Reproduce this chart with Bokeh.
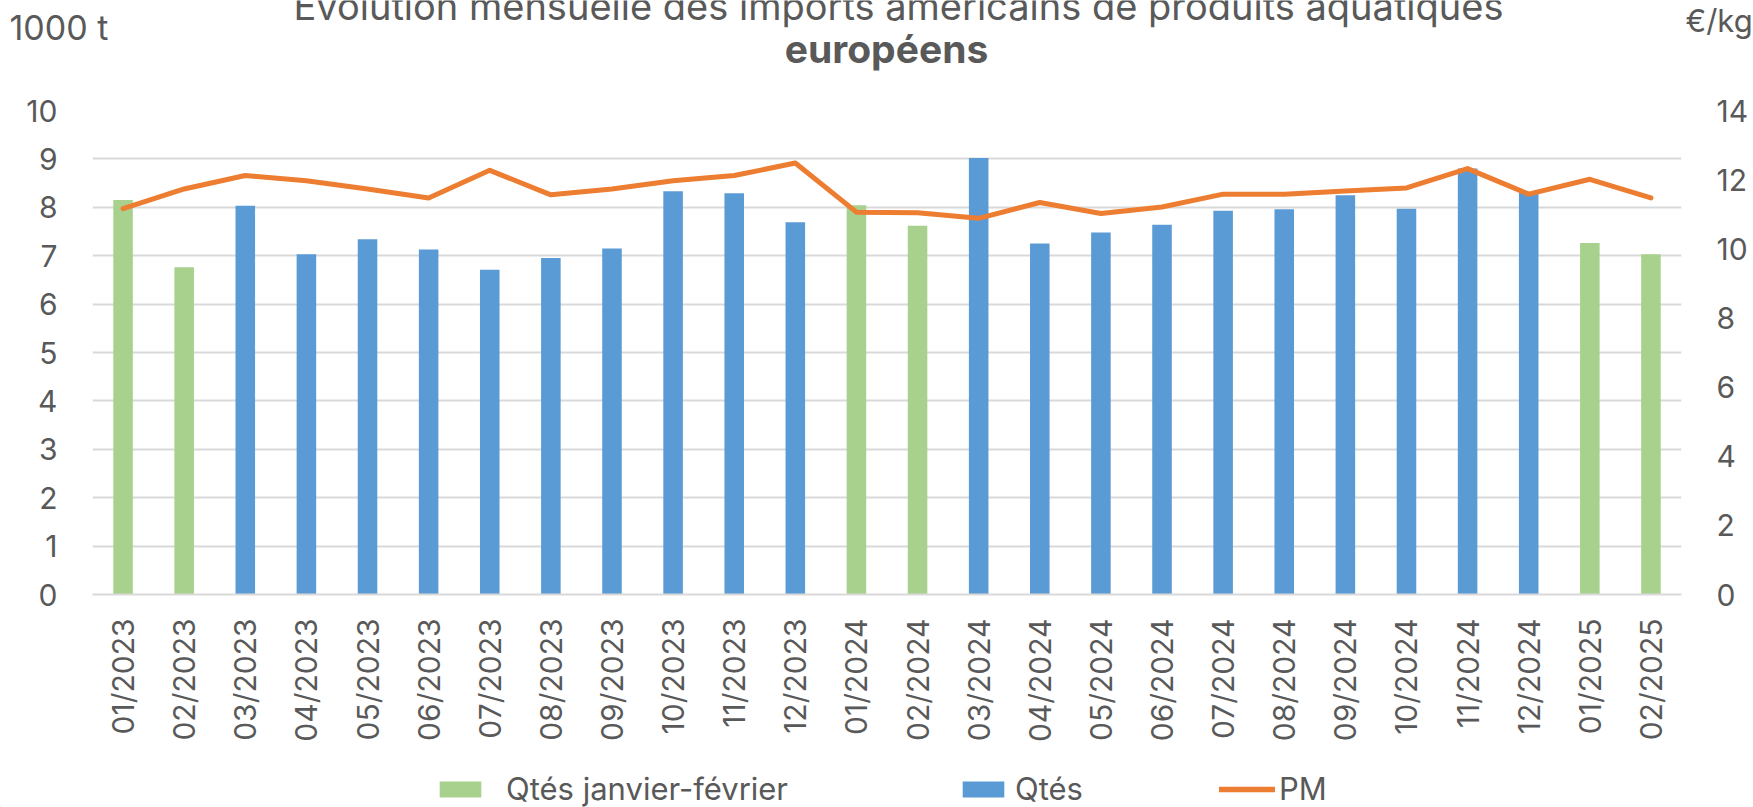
import math
from bokeh.plotting import figure
from bokeh.layouts import column
from bokeh.models import (FactorRange, Range1d, LinearAxis, FixedTicker,
                          Legend, LegendItem)
from bokeh.core.properties import value
from bokeh.embed import file_html
from bokeh.resources import INLINE

# ---------------- data ----------------
months = ["01/2023", "02/2023", "03/2023", "04/2023", "05/2023", "06/2023",
          "07/2023", "08/2023", "09/2023", "10/2023", "11/2023", "12/2023",
          "01/2024", "02/2024", "03/2024", "04/2024", "05/2024", "06/2024",
          "07/2024", "08/2024", "09/2024", "10/2024", "11/2024", "12/2024",
          "01/2025", "02/2025"]

jf_months = ["01/2023", "02/2023", "01/2024", "02/2024", "01/2025", "02/2025"]
qtes_jf = [8.15, 6.76, 8.04, 7.62, 7.26, 7.03]

other_months = ["03/2023", "04/2023", "05/2023", "06/2023", "07/2023", "08/2023",
                "09/2023", "10/2023", "11/2023", "12/2023",
                "03/2024", "04/2024", "05/2024", "06/2024", "07/2024", "08/2024",
                "09/2024", "10/2024", "11/2024", "12/2024"]
qtes = [8.03, 7.03, 7.34, 7.13, 6.71, 6.95,
        7.15, 8.33, 8.29, 7.69,
        9.02, 7.25, 7.48, 7.64, 7.93, 7.96,
        8.25, 7.97, 8.80, 8.30]

pm = [11.16, 11.73, 12.12, 11.97, 11.73, 11.47, 12.27, 11.56, 11.73, 11.97,
      12.12, 12.48, 11.06, 11.04, 10.88, 11.34, 11.02, 11.21, 11.58, 11.58,
      11.67, 11.76, 12.32, 11.58, 12.01, 11.47]

left_ticks = [0, 1, 2, 3, 4, 5, 6, 7, 8, 9, 10]
right_ticks = [0, 2, 4, 6, 8, 10, 12, 14]

title_line1 = "Évolution mensuelle des imports américains de produits aquatiques"
title_line2 = "européens"
left_unit = "1000 t"
right_unit = "€/kg"
legend_labels = ["Qtés janvier-février", "Qtés", "PM"]

# ---------------- style ----------------
FONT = "Inter"
TXT = "#595959"
GRID = "#D9D9D9"
GREEN = "#A9D18E"
BLUE = "#5B9BD5"
ORANGE = "#ED7D31"
FS = "30px"
W = 1753
HEADER_H = 90
FOOTER_H = 37
MAIN_H = 807 - HEADER_H - FOOTER_H

# ---------------- header (titles and units) ----------------
head = figure(width=W, height=HEADER_H, x_range=Range1d(0, W),
              y_range=Range1d(HEADER_H, 0), x_axis_type=None, y_axis_type=None,
              output_backend="svg", toolbar_location=None,
              min_border=0, outline_line_color=None, frame_align=False)
head.grid.visible = False
head.text(x=[898], y=[5], text=[title_line1], text_align="center",
          text_baseline="alphabetic", text_font=value(FONT),
          text_font_size="38px", text_color=TXT)
head.text(x=[886], y=[48], text=[title_line2], text_align="center",
          text_baseline="alphabetic", text_font=value(FONT),
          text_font_size="39px", text_font_style="bold", text_color=TXT)
head.text(x=[9], y=[27], text=[left_unit], text_align="left",
          text_baseline="alphabetic", text_font=value(FONT),
          text_font_size="34px", text_color=TXT)
head.text(x=[1685], y=[20], text=[right_unit], text_align="left",
          text_baseline="alphabetic", text_font=value(FONT),
          text_font_size="31px", text_color=TXT)

# ---------------- main chart ----------------
p = figure(width=W, height=MAIN_H,
           x_range=FactorRange(*months, range_padding=0),
           y_range=Range1d(0, 10),
           output_backend="svg", toolbar_location=None,
           min_border_left=92, min_border_right=72,
           min_border_top=20, min_border_bottom=176, frame_align=False)
p.outline_line_color = None
p.extra_y_ranges = {"pm": Range1d(0, 14)}

g = p.vbar(x=jf_months, top=qtes_jf, width=0.32, fill_color=GREEN, line_color=None)
b = p.vbar(x=other_months, top=qtes, width=0.32, fill_color=BLUE, line_color=None)
ln = p.line(x=months, y=pm, y_range_name="pm", line_color=ORANGE, line_width=5,
            line_join="round", line_cap="round")

p.xgrid.grid_line_color = None
p.ygrid.ticker = FixedTicker(ticks=left_ticks)
p.ygrid.grid_line_color = GRID
p.ygrid.grid_line_width = 2

def style_axis(ax, standoff):
    ax.axis_line_color = None
    ax.major_tick_line_color = None
    ax.minor_tick_line_color = None
    ax.major_tick_out = 0
    ax.major_tick_in = 0
    ax.minor_tick_out = 0
    ax.major_label_standoff = standoff
    ax.major_label_text_font = FONT
    ax.major_label_text_font_size = FS
    ax.major_label_text_color = TXT

ya = p.yaxis[0]
ya.ticker = FixedTicker(ticks=left_ticks)
style_axis(ya, 35)

ra = LinearAxis(y_range_name="pm", ticker=FixedTicker(ticks=right_ticks))
style_axis(ra, 35)
p.add_layout(ra, "right")

xa = p.xaxis[0]
style_axis(xa, 24)
xa.axis_line_color = GRID
xa.axis_line_width = 2
xa.major_label_orientation = math.pi / 2

# ---------------- footer (legend) ----------------
foot = figure(width=W, height=FOOTER_H, x_range=Range1d(0, W),
              y_range=Range1d(0, FOOTER_H), x_axis_type=None, y_axis_type=None,
              output_backend="svg", toolbar_location=None,
              min_border=0, outline_line_color=None, frame_align=False)
foot.grid.visible = False
# legend-only renderers, placed outside the visible range
lg = foot.vbar(x=[-500], top=[1], width=1, fill_color=GREEN, line_color=None)
lb = foot.vbar(x=[-500], top=[1], width=1, fill_color=BLUE, line_color=None)
ll = foot.line(x=[-500, -490], y=[1, 1], line_color=ORANGE, line_width=5.5,
               line_cap="round")

def leg(label, r, x, standoff, gw):
    L = Legend(items=[LegendItem(label=label, renderers=[r])], location=(x, 0),
               orientation="horizontal", glyph_width=gw, glyph_height=20,
               label_standoff=standoff, padding=0, margin=0, spacing=0,
               border_line_color=None, background_fill_alpha=0,
               label_text_font=FONT, label_text_font_size="31px",
               label_text_color=TXT)
    foot.add_layout(L)

leg(legend_labels[0], lg, 434, 20, 52)
leg(legend_labels[1], lb, 957, 6, 52)
leg(legend_labels[2], ll, 1219, 4, 56)

layout = column(head, p, foot, spacing=0)
open("out.html", "w").write(file_html(layout, INLINE))
